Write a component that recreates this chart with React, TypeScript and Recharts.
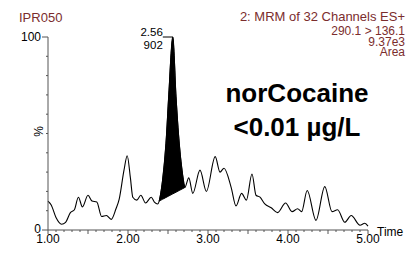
import { Area, ComposedChart, Line, XAxis, YAxis } from "recharts";

// retention time (min) and relative intensity (%)
const times = [
  1.0, 1.04, 1.1, 1.17, 1.22, 1.28, 1.33, 1.38, 1.43, 1.5, 1.55, 1.61, 1.67, 1.73, 1.79, 1.85, 1.89, 1.95, 1.99,
  2.03, 2.06, 2.11, 2.16, 2.22, 2.29, 2.33, 2.37, 2.39, 2.43, 2.475, 2.51, 2.56, 2.6, 2.64, 2.675, 2.71, 2.76,
  2.81, 2.9, 2.98, 3.09, 3.15, 3.2, 3.29, 3.35, 3.42, 3.48, 3.55, 3.6, 3.65, 3.71, 3.79, 3.87, 3.97, 4.05, 4.12,
  4.17, 4.24, 4.35, 4.46, 4.55, 4.62, 4.71, 4.79, 4.9, 4.96, 5.0,
];
const intensity = [
  15, 13, 6.5, 3, 4, 9, 10.5, 17, 12, 18, 15, 14.5, 7, 7.5, 5.5, 11, 16, 31, 38.5,
  27, 17, 15.5, 18, 14, 17, 14.5, 13.5, 15, 25, 45, 70, 100, 69, 45, 31, 22, 27,
  19, 31, 20, 38, 30, 32, 22, 12.5, 19, 15.5, 29, 18, 17, 13.5, 11.5, 9, 14, 9.5, 11,
  9.5, 20.5, 5, 22.5, 9.5, 10.5, 4, 7.5, 2.5, 3.5, 2,
];

// integrated peak: baseline drawn straight from start to end of the peak
const peakStart = 2.39;
const peakEnd = 2.71;
const apexTime = 2.56;
const apexLabel = ["2.56", "902"];

const xTicks = Array.from({ length: 41 }, (_, i) => Math.round((1 + i * 0.1) * 10) / 10);
const yTicks = [0, 10, 20, 30, 40, 50, 60, 70, 80, 90, 100];
const yLabels: Record<number, string> = { 0: "0", 100: "100" };

const headerLeft = "IPR050";
const headerRight = ["2: MRM of 32 Channels ES+", "290.1 > 136.1", "9.37e3", "Area"];
const compound = ["norCocaine", "<0.01 µg/L"];

const font = "'Liberation Sans', Arial, sans-serif";
const axisColor = "#555";
const headColor = "#7b2d2d";

const yAtStart = intensity[times.indexOf(peakStart)];
const yAtEnd = intensity[times.indexOf(peakEnd)];
const baselineAt = (t: number) => yAtStart + ((yAtEnd - yAtStart) * (t - peakStart)) / (peakEnd - peakStart);

const rows = times.map((t, i) => ({
  t,
  y: intensity[i],
  peak: t >= peakStart && t <= peakEnd ? [baselineAt(t), intensity[i]] : null,
}));

function TimeTick({ x, y, payload }: any) {
  const v = payload.value as number;
  const whole = Math.abs(v - Math.round(v)) < 1e-6;
  const half = Math.abs(v * 2 - Math.round(v * 2)) < 1e-6;
  return (
    <g>
      <line x1={x} x2={x} y1={y} y2={y + (half ? 4 : 2)} stroke={axisColor} />
      {whole && (
        <text x={x} y={y + 12.5} textAnchor="middle" fontSize={12} fontFamily={font} fill="#000">
          {v.toFixed(2)}
        </text>
      )}
      {v === 5 && (
        <text x={x + 9} y={y + 6} fontSize={12} fontFamily={font} fill="#000">
          Time
        </text>
      )}
    </g>
  );
}

function PctTick({ x, y, payload }: any) {
  const v = payload.value as number;
  const label = yLabels[v];
  return (
    <g>
      <line x1={x} x2={x - (label ? 6 : 2)} y1={y} y2={y} stroke={axisColor} />
      {label && (
        <text x={x - 7} y={y + (v === 0 ? 3 : 4.3)} textAnchor="end" fontSize={12} fontFamily={font} fill="#000">
          {label}
        </text>
      )}
      {v === 50 && (
        <text
          x={39}
          y={y - 2}
          textAnchor="middle"
          fontSize={12}
          fontFamily={font}
          fill="#000"
          transform={`rotate(-90 39 ${y - 2})`}
          dominantBaseline="central"
        >
          %
        </text>
      )}
    </g>
  );
}

function ApexDot({ cx, cy, payload }: any) {
  if (payload.t !== apexTime) return <g />;
  return (
    <g>
      <line x1={cx - 10} x2={cx} y1={cy} y2={cy} stroke="#000" />
      <text x={cx - 10} y={cy - 1.5} textAnchor="end" fontSize={11.5} fontFamily={font} fill="#000">
        {apexLabel[0]}
      </text>
      <text x={cx - 10} y={cy + 11.5} textAnchor="end" fontSize={11.5} fontFamily={font} fill="#000">
        {apexLabel[1]}
      </text>
    </g>
  );
}

export default function App() {
  return (
    <div style={{ position: "absolute", left: 0, top: 0, width: 408, height: 253, background: "#fff" }}>
      <ComposedChart width={408} height={253} data={rows} margin={{ top: 37, right: 40, bottom: 0, left: 0 }}>
        <XAxis
          dataKey="t"
          type="number"
          domain={[1, 5]}
          ticks={xTicks}
          interval={0}
          height={23}
          tickSize={0}
          tickMargin={0}
          tick={<TimeTick />}
          stroke={axisColor}
        />
        <YAxis
          type="number"
          domain={[0, 100]}
          ticks={yTicks}
          interval={0}
          width={48}
          tickSize={0}
          tickMargin={0}
          tick={<PctTick />}
          stroke={axisColor}
        />
        <Area
          dataKey="peak"
          type="monotone"
          fill="#000"
          fillOpacity={1}
          stroke="#000"
          isAnimationActive={false}
        />
        <Line
          dataKey="y"
          type="monotone"
          stroke="#000"
          strokeWidth={1.1}
          dot={<ApexDot />}
          activeDot={false}
          isAnimationActive={false}
        />
      </ComposedChart>
      <svg
        width={408}
        height={253}
        style={{ position: "absolute", left: 0, top: 0, pointerEvents: "none" }}
        fontFamily={font}
      >
        <text x={19} y={21.5} fontSize={13} fill={headColor}>
          {headerLeft}
        </text>
        {headerRight.map((s, i) => (
          <text key={s} x={405} y={[21, 35, 45.5, 56][i]} fontSize={i === 0 ? 13 : 12} textAnchor="end" fill={headColor}>
            {s}
          </text>
        ))}
        {compound.map((s, i) => (
          <text key={s} x={297} y={i === 0 ? 102 : 136} fontSize={26} fontWeight="bold" textAnchor="middle" fill="#000">
            {s}
          </text>
        ))}
      </svg>
    </div>
  );
}
